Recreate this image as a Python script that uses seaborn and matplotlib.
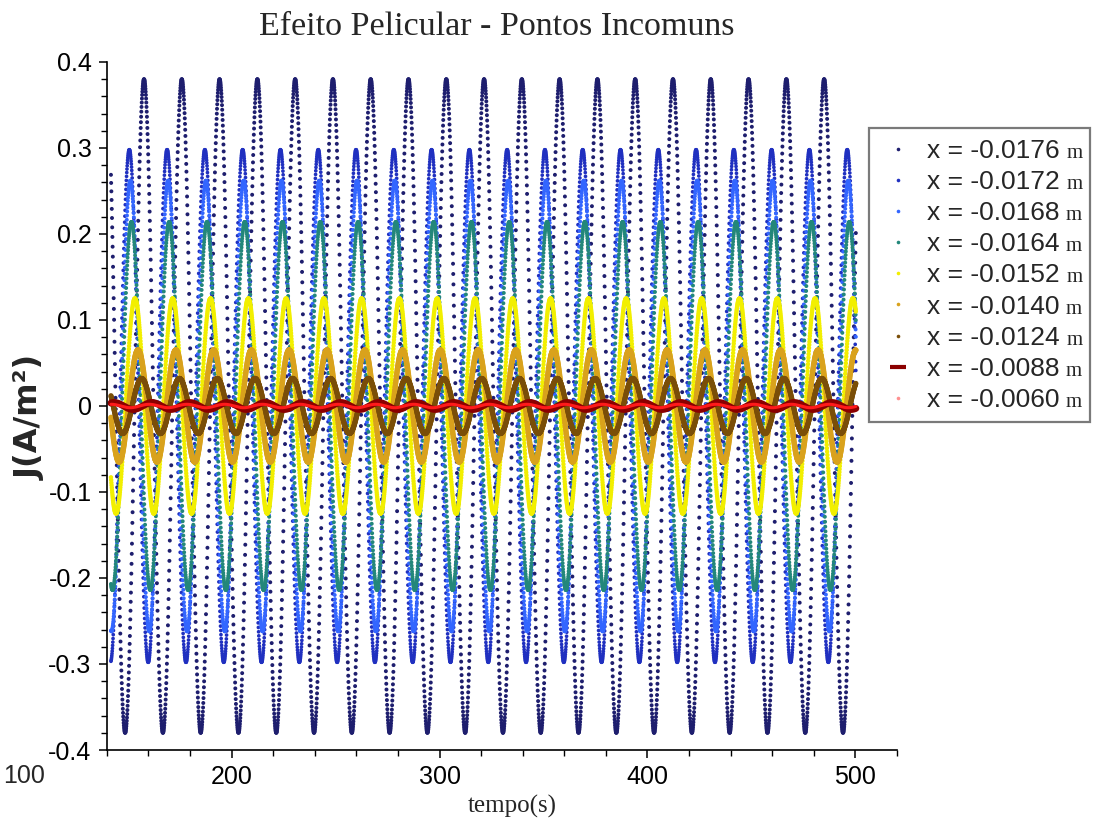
import numpy as np
import pandas as pd
import matplotlib
matplotlib.use("Agg")
import matplotlib.pyplot as plt
import seaborn as sns
from matplotlib.lines import Line2D
from matplotlib.patches import Rectangle
from matplotlib.ticker import MultipleLocator, FixedLocator, FixedFormatter

# ---------------- data ----------------
positions = ["-0.0176", "-0.0172", "-0.0168", "-0.0164", "-0.0152",
             "-0.0140", "-0.0124", "-0.0088", "-0.0060"]
amplitudes = [0.380, 0.298, 0.262, 0.214, 0.125, 0.065, 0.032, 0.004, 0.002]   # A/m²
peak_times = [157.9, 169.0, 169.5, 170.0, 171.7, 173.2, 174.9, 179.9, 178.5]  # s
period = 18.17          # s
t_start, t_end, t_step = 142.0, 500.3, 0.1

series_colors = ["#1e1e6e", "#2030c0", "#3366ff", "#23877a", "#f2ef00",
                 "#d9a21c", "#7a4e08", "#8b0000", "#ff1a1a"]
legend_colors = ["#1e1e6e", "#2030c0", "#3366ff", "#23877a", "#f2ef00",
                 "#d9a21c", "#7a4e08", "#8b0000", "#ff9090"]
series_style = ["dot", "dot", "dot", "dot", "dot", "dot", "dot", "line", "line"]
marker_sizes = [8, 7, 8, 8, 10, 16, 14, 0, 0]
line_widths = [0, 0, 0, 0, 0, 0, 0, 5.0, 2.2]

y_ticks = [-0.4, -0.3, -0.2, -0.1, 0.0, 0.1, 0.2, 0.3, 0.4]
y_tick_labels = ["-0.4", "-0.3", "-0.2", "-0.1", "0", "0.1", "0.2", "0.3", "0.4"]
x_ticks = [200, 300, 400, 500]
x_tick_labels = ["200", "300", "400", "500"]
extra_x_label = 100

title = "Efeito Pelicular - Pontos Incomuns"
xlabel = "tempo(s)"
ylabel = "J(A/m²)"

# ---------------- build long table ----------------
t = np.arange(t_start, t_end, t_step)
frames = []
for pos, amp, tp in zip(positions, amplitudes, peak_times):
    frames.append(pd.DataFrame({
        "tempo": t,
        "J": amp * np.cos(2 * np.pi * (t - tp) / period),
        "x": pos,
    }))
df = pd.concat(frames, ignore_index=True)

# ---------------- figure ----------------
sns.set_theme(style="white")
plt.rcParams["font.family"] = ["Liberation Sans", "DejaVu Sans"]
plt.rcParams["axes.unicode_minus"] = False

fig = plt.figure(figsize=(10.95, 8.23), dpi=100)
ax = fig.add_axes([106.8 / 1095, 1 - 750 / 823, (897 - 106.8) / 1095, (750 - 62) / 823])

for pos, style, c, s, lw in zip(positions, series_style, series_colors, marker_sizes, line_widths):
    sub = df[df["x"] == pos]
    if style == "dot":
        sns.scatterplot(data=sub, x="tempo", y="J", color=c, s=s, linewidth=0,
                        edgecolor="none", legend=False, ax=ax)
    else:
        sns.lineplot(data=sub, x="tempo", y="J", color=c, lw=lw, estimator=None,
                     sort=False, legend=False, ax=ax)

ax.set_xlim(140, 520)
ax.set_ylim(-0.4, 0.4)
ax.set_xlabel("")
ax.set_ylabel("")

for side in ["top", "right"]:
    ax.spines[side].set_visible(False)
for side in ["left", "bottom"]:
    ax.spines[side].set_color("black")
    ax.spines[side].set_linewidth(1.2)

ax.xaxis.set_major_locator(FixedLocator(x_ticks))
ax.xaxis.set_major_formatter(FixedFormatter(x_tick_labels))
ax.xaxis.set_minor_locator(MultipleLocator(20))
ax.yaxis.set_major_locator(FixedLocator(y_ticks))
ax.yaxis.set_major_formatter(FixedFormatter(y_tick_labels))
ax.yaxis.set_minor_locator(MultipleLocator(0.02))
ax.tick_params(axis="both", which="major", direction="out", length=6, width=1.1,
               color="black", labelsize=18, labelcolor="black", pad=5,
               bottom=True, left=True)
ax.tick_params(axis="both", which="minor", direction="out", length=4, width=1.0,
               color="black", bottom=True, left=True)

ax.annotate(str(extra_x_label), xy=(extra_x_label, 0), xycoords=("data", "axes fraction"),
            xytext=(0, -(6 + 5) * 0.72 - 2), textcoords="offset points",
            ha="center", va="top", fontsize=18, annotation_clip=False)

fig.text(497 / 1095, 1 - 27 / 823, title, family="Liberation Serif", fontsize=24.5,
         ha="center", va="center")
fig.text(512 / 1095, 1 - 806 / 823, xlabel, family="Liberation Serif", fontsize=18,
         ha="center", va="center")
fig.text(30 / 1095, 1 - 417 / 823, ylabel, family="DejaVu Sans", fontweight="bold",
         fontsize=23, rotation=90, ha="center", va="center")

# ---------------- legend ----------------
handles = []
for style, c in zip(series_style, legend_colors):
    if style == "line" and c == "#8b0000":
        handles.append(Line2D([], [], ls="", marker="_", ms=11, mew=3, color=c))
    else:
        handles.append(Line2D([], [], ls="", marker="o", ms=2.6, mew=0, color=c))
labels = ["x = " + p for p in positions]
leg = ax.legend(handles, labels, loc="upper left",
                bbox_to_anchor=(883 / 1095, 1 - 139 / 823), bbox_transform=fig.transFigure,
                frameon=False, fontsize=19, handlelength=1.15, handletextpad=0.5,
                labelspacing=0.27, borderpad=0.0, borderaxespad=0.0)
fig.add_artist(Rectangle((869 / 1095, 1 - 422 / 823), (1090 - 869) / 1095, (422 - 128) / 823,
                         transform=fig.transFigure, fill=False, edgecolor="#7a7a7a", lw=1.6))

fig.canvas.draw()
renderer = fig.canvas.get_renderer()
inv = fig.transFigure.inverted()
for txt in leg.get_texts():
    bb = txt.get_window_extent(renderer)
    x0, yc = inv.transform(((bb.x1 + 7), (bb.y0 + bb.y1) / 2))
    fig.text(x0, yc - 0.003, "m", family="Liberation Serif", fontsize=15,
             ha="left", va="center")

fig.savefig("out.png", dpi=100)
